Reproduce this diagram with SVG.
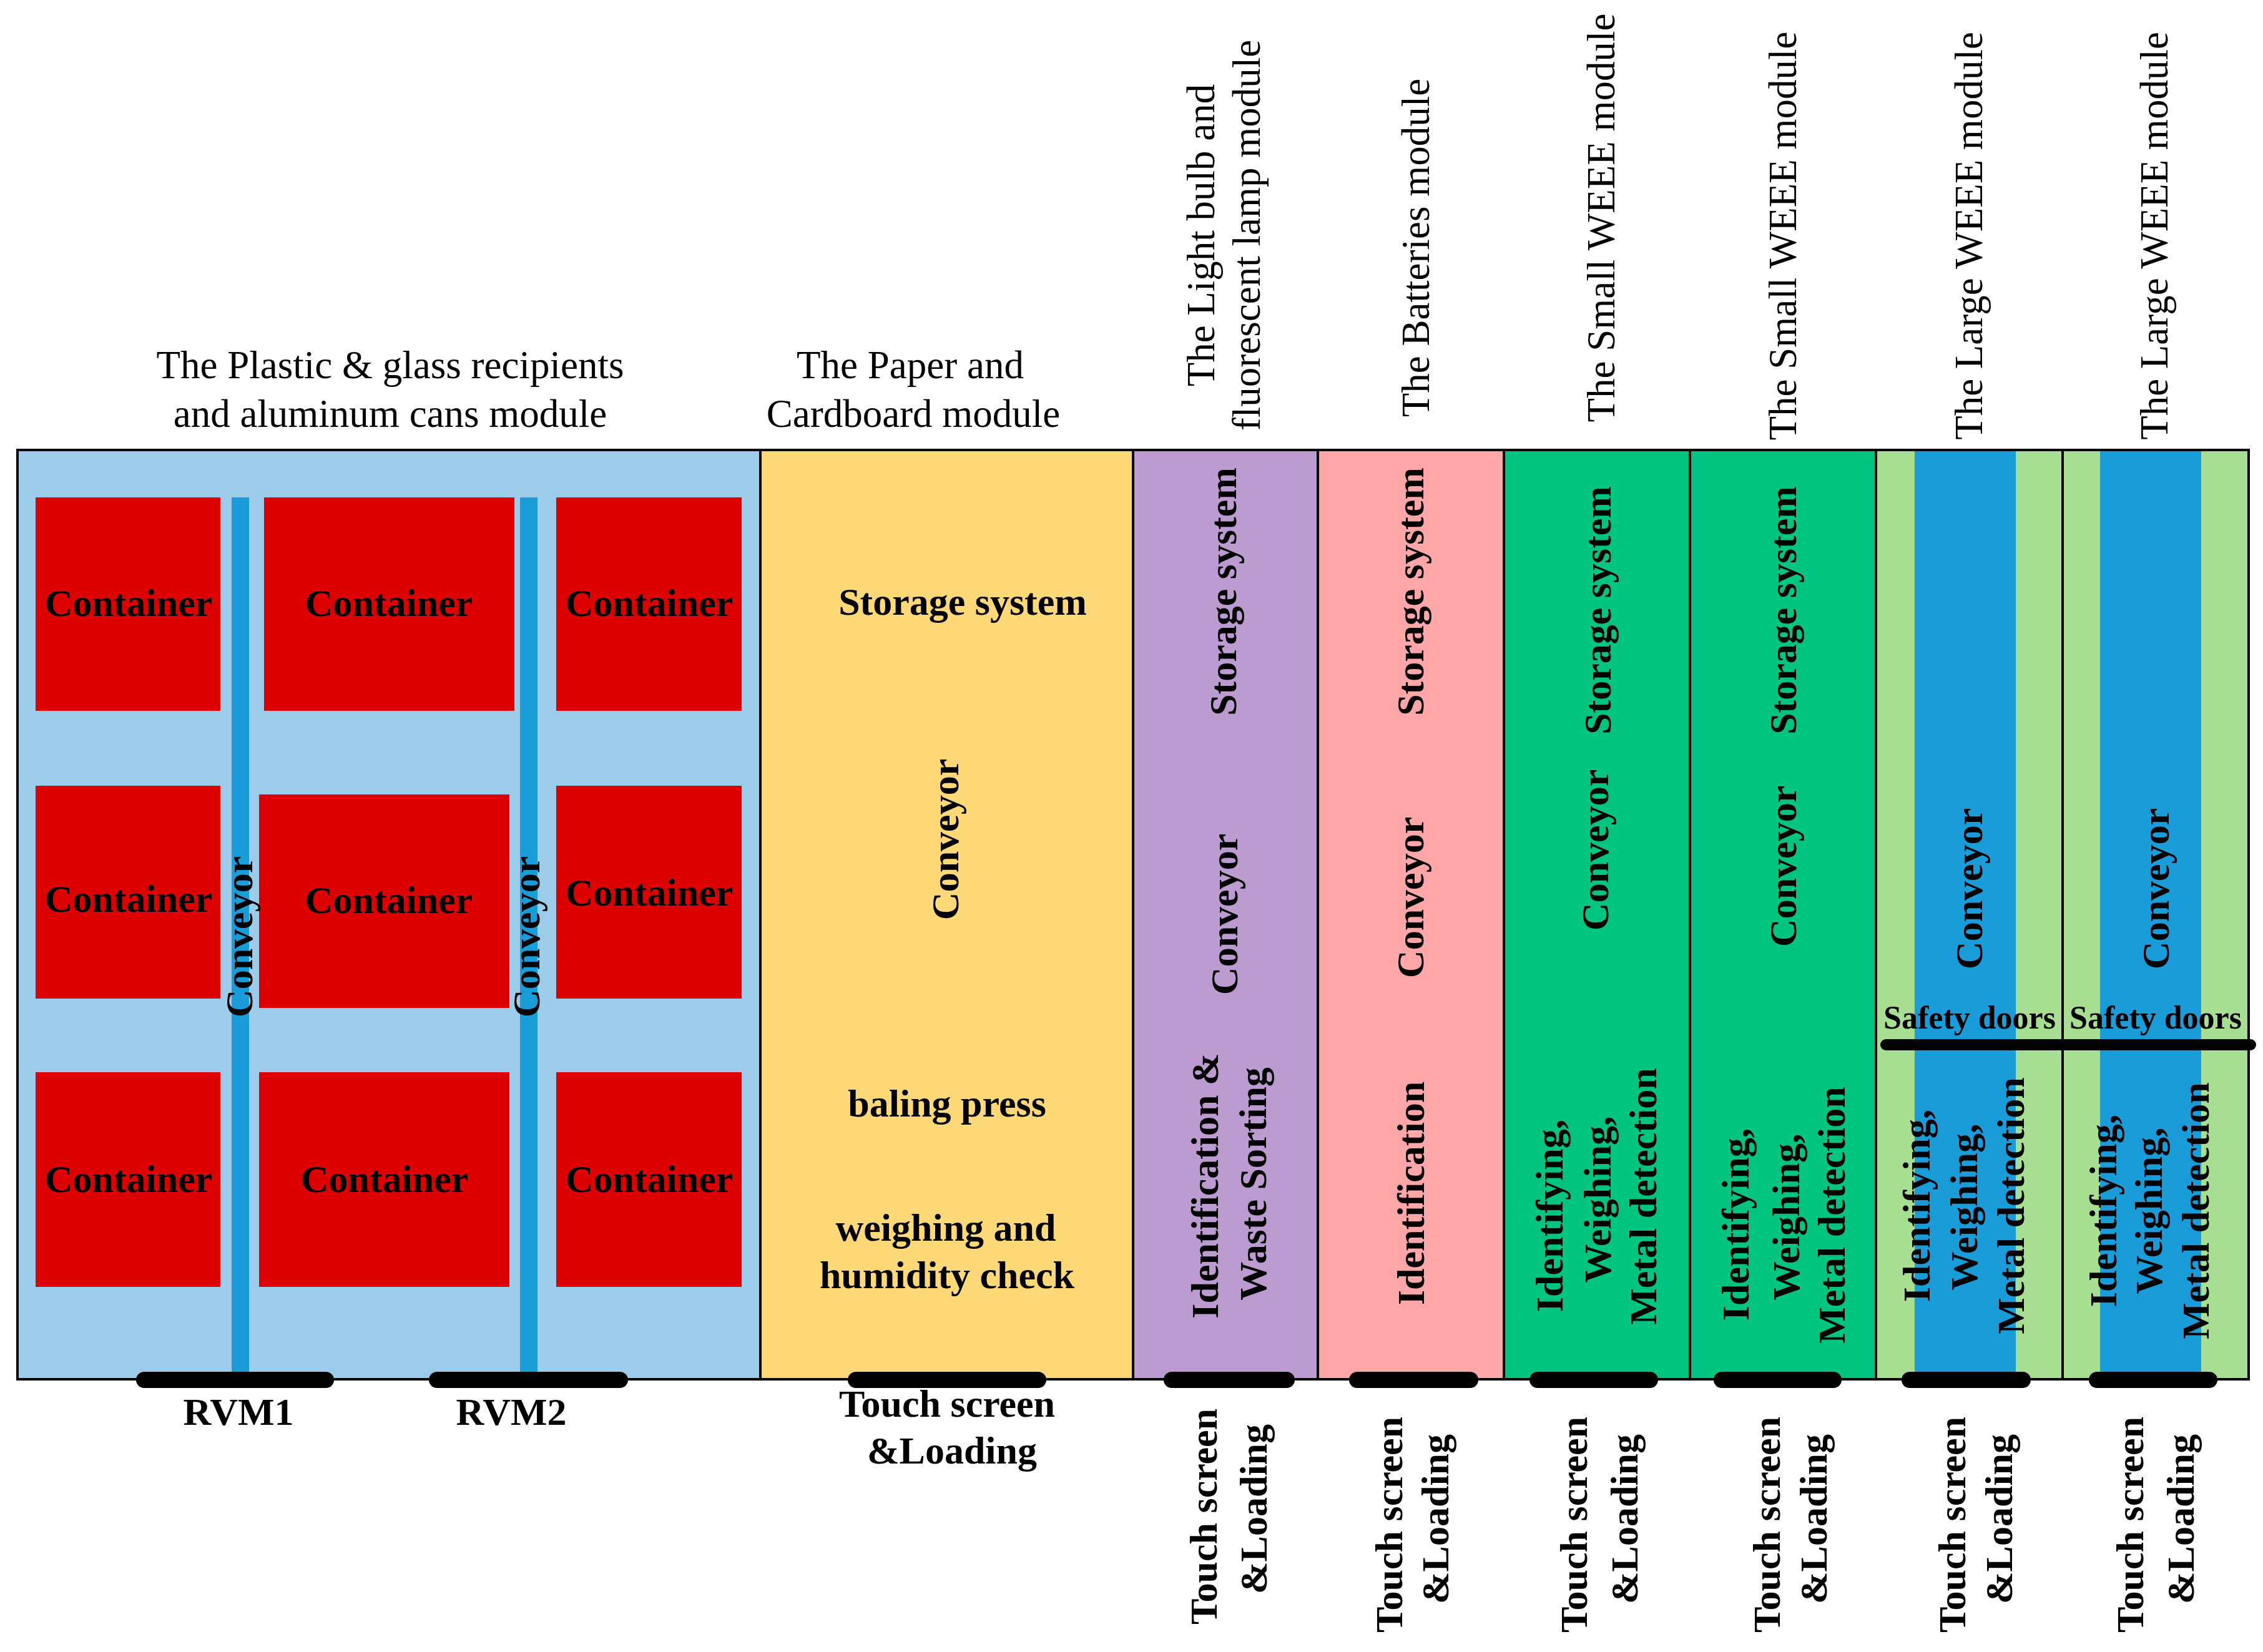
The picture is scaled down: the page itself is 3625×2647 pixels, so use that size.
<svg xmlns="http://www.w3.org/2000/svg" width="3625" height="2647" viewBox="0 0 3625 2647">
<style>
.hdr{font-family:"Liberation Serif","Times New Roman",serif;font-size:63px;fill:#000;text-anchor:middle}
.b{font-family:"Liberation Serif","Times New Roman",serif;font-size:62px;font-weight:bold;fill:#000;text-anchor:middle}
.bs{font-family:"Liberation Serif","Times New Roman",serif;font-size:52px;font-weight:bold;fill:#000;text-anchor:middle}
.cont{fill:#DC0000}
.conv{fill:#1A9CD8}
.bar{fill:#000}
.div{stroke:#000;stroke-width:4;fill:none}
</style>
<rect width="3625" height="2647" fill="#ffffff"/>

<!-- headers -->
<g id="headers">
<text class="hdr" x="625" y="606">The Plastic &amp; glass recipients</text>
<text class="hdr" x="625" y="684">and aluminum cans module</text>
<text class="hdr" x="1458" y="606">The Paper and</text>
<text class="hdr" x="1463" y="684">Cardboard module</text>
<text class="hdr" transform="translate(1945,377) rotate(-90)">The Light bulb and</text>
<text class="hdr" transform="translate(2018,377) rotate(-90)">fluorescent lamp module</text>
<text class="hdr" transform="translate(2289,397) rotate(-90)">The Batteries module</text>
<text class="hdr" transform="translate(2586,349) rotate(-90)">The Small WEEE module</text>
<text class="hdr" transform="translate(2877,378) rotate(-90)">The Small WEEE module</text>
<text class="hdr" transform="translate(3175,378) rotate(-90)">The Large WEEE module</text>
<text class="hdr" transform="translate(3472,378) rotate(-90)">The Large WEEE module</text>
</g>

<!-- module 1: plastic & glass -->
<g id="module-plastic">
<rect x="28" y="721" width="1190" height="1489" fill="#9DCBEA"/>
<g id="containers">
<rect class="cont" x="57" y="797" width="296" height="342"/>
<rect class="cont" x="423" y="797" width="401" height="342"/>
<rect class="cont" x="891" y="797" width="297" height="342"/>
<rect class="cont" x="57" y="1259" width="296" height="341"/>
<rect class="cont" x="415" y="1273" width="401" height="342"/>
<rect class="cont" x="891" y="1259" width="297" height="341"/>
<rect class="cont" x="57" y="1718" width="296" height="344"/>
<rect class="cont" x="415" y="1718" width="401" height="344"/>
<rect class="cont" x="891" y="1718" width="297" height="344"/>
<text class="b" x="206" y="987">Container</text>
<text class="b" x="623" y="987">Container</text>
<text class="b" x="1040" y="987">Container</text>
<text class="b" x="206" y="1461">Container</text>
<text class="b" x="623" y="1463">Container</text>
<text class="b" x="1040" y="1451">Container</text>
<text class="b" x="206" y="1910">Container</text>
<text class="b" x="616" y="1910">Container</text>
<text class="b" x="1040" y="1910">Container</text>
</g>
<g id="conveyor-rvm1">
<rect class="conv" x="371" y="797" width="28" height="1413"/>
<text class="b" font-size="60" transform="translate(404,1501) rotate(-90)">Conveyor</text>
</g>
<g id="conveyor-rvm2">
<rect class="conv" x="833" y="797" width="28" height="1413"/>
<text class="b" font-size="60" transform="translate(864,1501) rotate(-90)">Conveyor</text>
</g>
</g>

<!-- module 2: paper -->
<g id="module-paper">
<rect x="1218" y="721" width="597" height="1489" fill="#FFD978"/>
<text class="b" x="1542" y="985">Storage system</text>
<text class="b" transform="translate(1535,1345) rotate(-90)">Conveyor</text>
<text class="b" x="1517" y="1789">baling press</text>
<text class="b" x="1515" y="1988">weighing and</text>
<text class="b" x="1517" y="2064">humidity check</text>
</g>

<!-- module 3: light bulb -->
<g id="module-lightbulb">
<rect x="1815" y="721" width="296" height="1489" fill="#BC9BD0"/>
<text class="b" transform="translate(1980,948) rotate(-90)">Storage system</text>
<text class="b" transform="translate(1982,1465) rotate(-90)">Conveyor</text>
<text class="b" transform="translate(1951,1900) rotate(-90)">Identification &amp;</text>
<text class="b" transform="translate(2028,1897) rotate(-90)">Waste Sorting</text>
</g>

<!-- module 4: batteries -->
<g id="module-batteries">
<rect x="2111" y="721" width="298" height="1489" fill="#FFA6A9"/>
<text class="b" transform="translate(2280,948) rotate(-90)">Storage system</text>
<text class="b" transform="translate(2280,1438) rotate(-90)">Conveyor</text>
<text class="b" transform="translate(2281,1912) rotate(-90)">Identification</text>
</g>

<!-- module 5: small WEEE 1 -->
<g id="module-smallweee-1">
<rect x="2409" y="721" width="298" height="1489" fill="#00C480"/>
<text class="b" transform="translate(2580,978) rotate(-90)">Storage system</text>
<text class="b" transform="translate(2576,1362) rotate(-90)">Conveyor</text>
<text class="b" transform="translate(2503,1948) rotate(-90)">Identifying,</text>
<text class="b" transform="translate(2580,1922) rotate(-90)">Weighing,</text>
<text class="b" transform="translate(2653,1917) rotate(-90)">Metal detection</text>
</g>

<!-- module 6: small WEEE 2 -->
<g id="module-smallweee-2">
<rect x="2707" y="721" width="298" height="1489" fill="#00C480"/>
<text class="b" transform="translate(2877,978) rotate(-90)">Storage system</text>
<text class="b" transform="translate(2877,1388) rotate(-90)">Conveyor</text>
<text class="b" transform="translate(2801,1962) rotate(-90)">Identifying,</text>
<text class="b" transform="translate(2882,1950) rotate(-90)">Weighing,</text>
<text class="b" transform="translate(2955,1947) rotate(-90)">Metal detection</text>
</g>

<!-- module 7: large WEEE 1 -->
<g id="module-largeweee-1">
<rect x="3005" y="721" width="299" height="1489" fill="#A7DE91"/>
<rect class="conv" x="3067" y="721" width="162" height="1489"/>
<text class="b" transform="translate(3175,1424) rotate(-90)">Conveyor</text>
<text class="bs" x="3155" y="1648">Safety doors</text>
<text class="b" transform="translate(3091,1932) rotate(-90)">Identifying,</text>
<text class="b" transform="translate(3167,1934) rotate(-90)">Weighing,</text>
<text class="b" transform="translate(3242,1932) rotate(-90)">Metal detection</text>
</g>

<!-- module 8: large WEEE 2 -->
<g id="module-largeweee-2">
<rect x="3304" y="721" width="298" height="1489" fill="#A7DE91"/>
<rect class="conv" x="3364" y="721" width="162" height="1489"/>
<text class="b" transform="translate(3474,1424) rotate(-90)">Conveyor</text>
<text class="bs" x="3453" y="1648">Safety doors</text>
<text class="b" transform="translate(3390,1940) rotate(-90)">Identifying,</text>
<text class="b" transform="translate(3463,1940) rotate(-90)">Weighing,</text>
<text class="b" transform="translate(3538,1940) rotate(-90)">Metal detection</text>
</g>

<!-- frame and dividers -->
<g id="frame">
<rect x="28" y="721" width="3574" height="1489" class="div" stroke-width="5"/>
<line class="div" x1="1218" y1="721" x2="1218" y2="2210"/>
<line class="div" x1="1815" y1="721" x2="1815" y2="2210"/>
<line class="div" x1="2111" y1="721" x2="2111" y2="2210"/>
<line class="div" x1="2409" y1="721" x2="2409" y2="2210"/>
<line class="div" x1="2707" y1="721" x2="2707" y2="2210"/>
<line class="div" x1="3005" y1="721" x2="3005" y2="2210"/>
<line class="div" x1="3304" y1="721" x2="3304" y2="2210"/>
</g>

<g id="safety-doors">
<line x1="3021" y1="1674" x2="3605" y2="1674" stroke="#000" stroke-width="18" stroke-linecap="round"/>
</g>

<!-- loading points -->
<g id="loading-points">
<g id="rvm1"><rect class="bar" x="218" y="2198" width="317" height="26" rx="13"/><text class="b" x="382" y="2283">RVM1</text></g>
<g id="rvm2"><rect class="bar" x="687" y="2198" width="319" height="26" rx="13"/><text class="b" x="819" y="2283">RVM2</text></g>
<g id="load-paper"><rect class="bar" x="1358" y="2198" width="318" height="26" rx="13"/>
<text class="b" x="1517" y="2270">Touch screen</text><text class="b" x="1525" y="2345">&amp;Loading</text></g>
<g id="load-lightbulb"><rect class="bar" x="1864" y="2198" width="210" height="26" rx="13"/>
<text class="b" transform="translate(1949,2430) rotate(-90)">Touch screen</text>
<text class="b" transform="translate(2029,2418) rotate(-90)">&amp;Loading</text></g>
<g id="load-batteries"><rect class="bar" x="2161" y="2198" width="207" height="26" rx="13"/>
<text class="b" transform="translate(2246,2443) rotate(-90)">Touch screen</text>
<text class="b" transform="translate(2320,2434) rotate(-90)">&amp;Loading</text></g>
<g id="load-smallweee-1"><rect class="bar" x="2450" y="2198" width="206" height="26" rx="13"/>
<text class="b" transform="translate(2542,2443) rotate(-90)">Touch screen</text>
<text class="b" transform="translate(2623,2434) rotate(-90)">&amp;Loading</text></g>
<g id="load-smallweee-2"><rect class="bar" x="2745" y="2198" width="205" height="26" rx="13"/>
<text class="b" transform="translate(2851,2443) rotate(-90)">Touch screen</text>
<text class="b" transform="translate(2926,2434) rotate(-90)">&amp;Loading</text></g>
<g id="load-largeweee-1"><rect class="bar" x="3046" y="2198" width="207" height="26" rx="13"/>
<text class="b" transform="translate(3148,2443) rotate(-90)">Touch screen</text>
<text class="b" transform="translate(3223,2434) rotate(-90)">&amp;Loading</text></g>
<g id="load-largeweee-2"><rect class="bar" x="3346" y="2198" width="206" height="26" rx="13"/>
<text class="b" transform="translate(3433,2443) rotate(-90)">Touch screen</text>
<text class="b" transform="translate(3514,2434) rotate(-90)">&amp;Loading</text></g>
</g>
</svg>
